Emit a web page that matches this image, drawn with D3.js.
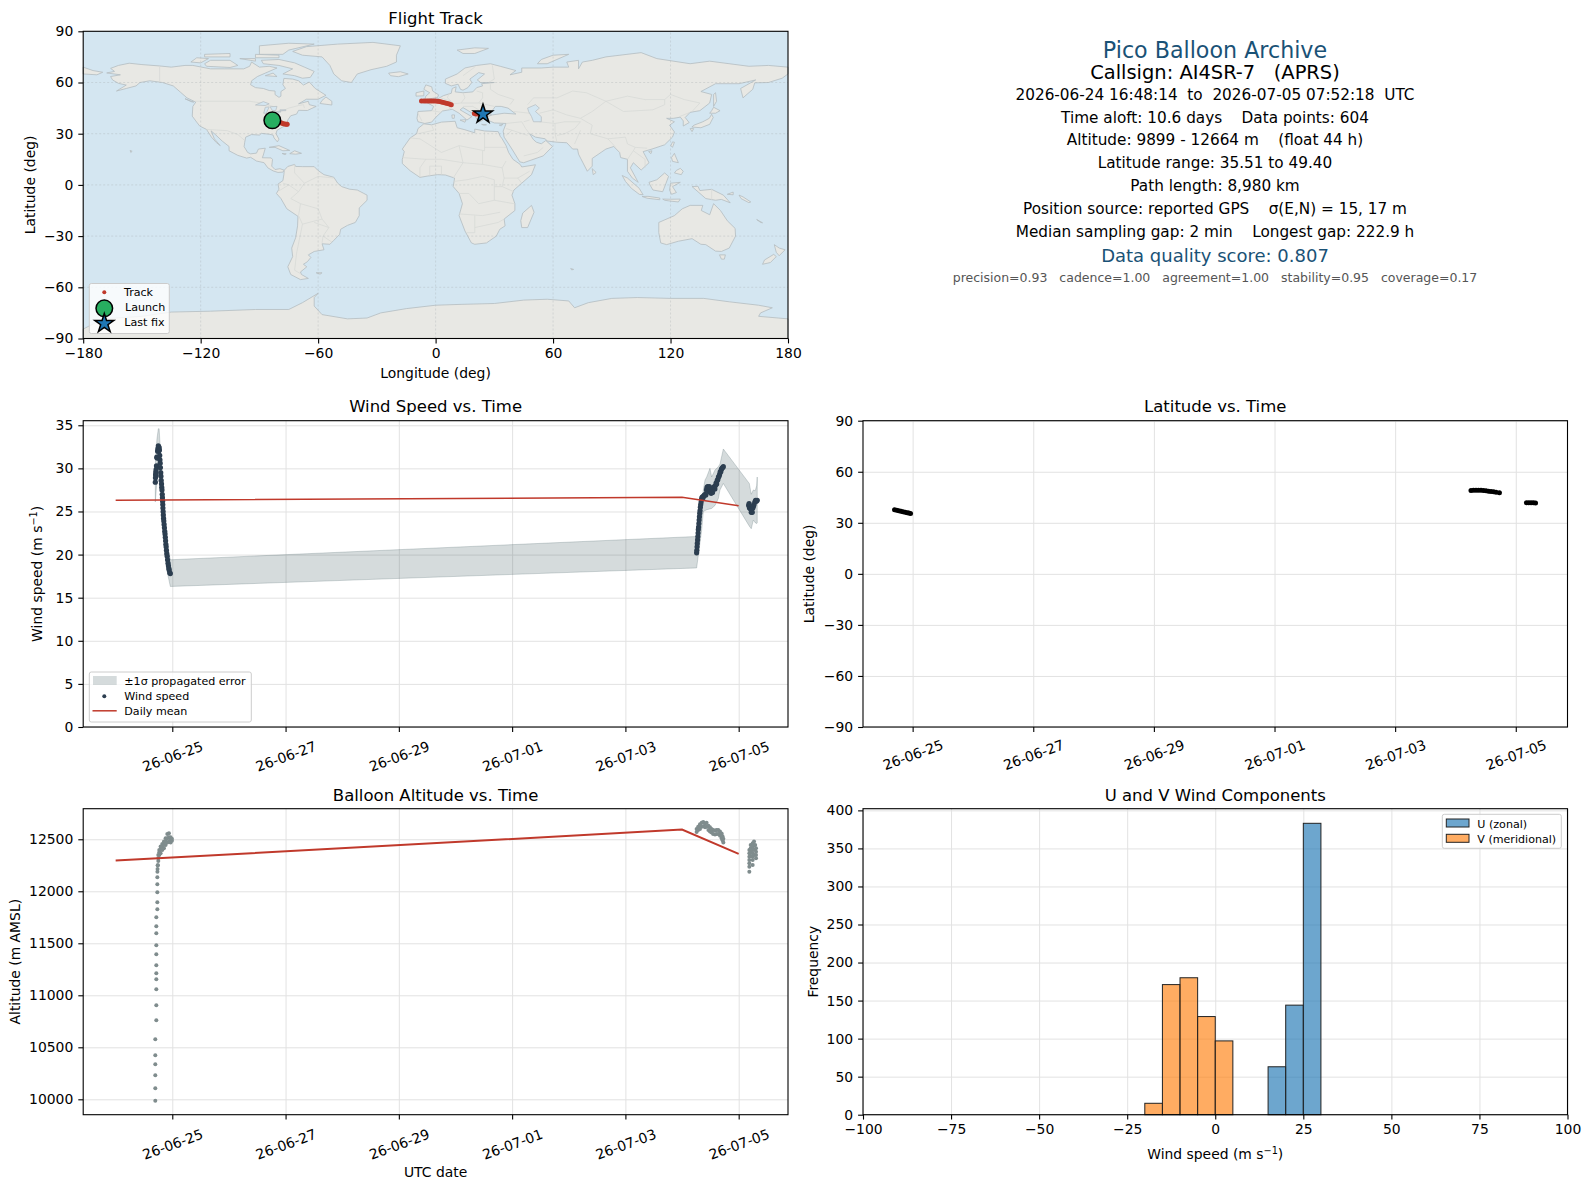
<!DOCTYPE html>
<html>

<head>
    <script type="text/javascript" src="https://d3js.org/d3.v7.min.js"></script>
    <style>
        body { margin: 0; background: white; }
        text { font-family: "DejaVu Sans", sans-serif; fill: black; white-space: pre; }
    </style>
</head>

<body>
    <script>

        // map outlines, lon/lat
        var landShapes = [
            // north america
            [[-168,65.6],[-164,66.5],[-166,68.3],[-162,70],[-156.5,71.3],[-150,70.5],[-141,69.7],[-135,69],[-128,70],[-124,70],[-115,68],[-108,68],[-98,68],[-95,69.5],[-94,72],[-90,69],[-85,69.5],[-81,68.5],[-87,65.5],[-91,63.5],[-94,61],[-94.5,58.7],[-92,57],[-88,56.5],[-85,55.3],[-82,55],[-82,52.9],[-80,51.3],[-79,52],[-79,54.7],[-76.7,56.5],[-78,58.7],[-77.5,62.4],[-73,62],[-70,61],[-67.5,58.5],[-64.5,60.3],[-61.5,56.5],[-56,52.5],[-60,50.2],[-66,50.2],[-70,47.5],[-65,49],[-64.5,47],[-61,46],[-65.5,43.6],[-70,43.7],[-71,41.5],[-74,40.5],[-75.5,38],[-76,35],[-78,34],[-81,32],[-81.5,30],[-80,26.8],[-80.8,25.2],[-82.5,27.5],[-83,29.2],[-85,29.7],[-89,30.2],[-90,29.2],[-94,29.5],[-97,28],[-97.5,25],[-97.8,22.4],[-96,19],[-94.5,18.2],[-91.5,18.6],[-90.5,21],[-87,21.5],[-88,17.5],[-88.5,15.9],[-84,15.8],[-83.3,14.9],[-83.7,11],[-82,9],[-79.5,9.5],[-77.3,8.6],[-78,7.5],[-80.5,7.3],[-83,8.2],[-85.7,10],[-87.6,13],[-91.5,14],[-94.5,16.2],[-96.5,15.7],[-101,17.3],[-105.5,20],[-105.5,22.5],[-109,25.7],[-112.5,29.5],[-114.7,31.7],[-113,27],[-110,23],[-112,24.8],[-114.5,28],[-117,32.5],[-120.5,34.5],[-122.5,37.5],[-124.3,40.3],[-124,46],[-122.5,48.5],[-127,51],[-130.5,54.5],[-134,58],[-139.5,60],[-146,61],[-151,60],[-153,58],[-158,56.5],[-163,55],[-158,58.5],[-162,59.5],[-165,61.5],[-166,63.5],[-161,64.5]],
            // south america
            [[-77.3,8.6],[-75.5,10.8],[-72,12],[-71.5,10.8],[-68,10.7],[-62,10.7],[-60,8.4],[-57,6],[-52,4.5],[-50,1],[-48,-1],[-44,-2.5],[-40,-3],[-37,-4.8],[-35,-6],[-35,-9],[-39,-13.5],[-39,-18],[-41,-22],[-45,-23.7],[-48.5,-26],[-49,-29],[-52,-32.5],[-54,-34.8],[-58,-34.5],[-57,-38],[-62,-39],[-65,-41],[-63.7,-42.5],[-65.5,-45],[-67.5,-46.5],[-65.8,-48],[-69,-51],[-68.5,-52.5],[-65,-54.8],[-69,-55.5],[-74,-52.5],[-75.5,-48],[-73,-42],[-73.5,-37],[-71.5,-31],[-70.5,-24],[-70.3,-18.4],[-76,-14],[-79,-8],[-81.3,-5],[-80,-2.5],[-80.5,0.5],[-78,2.5],[-77.5,6]],
            // africa
            [[-6,35.8],[-2,35.2],[3,36.8],[10,37.3],[11,33.5],[15,32.3],[20,30.5],[20,32.7],[25,31.6],[32,31.2],[33,28.5],[34,27],[36,23],[37.3,19],[39.5,15],[43.2,12],[44,10.5],[51,11.8],[49,6],[44,1],[40,-3],[39,-6],[40.5,-11],[40.5,-15],[35,-20],[35.5,-24],[32.8,-26],[31,-30],[26,-34],[20,-34.8],[18.3,-34],[15,-27],[12,-18],[13.7,-11],[12,-5],[9,-1],[9.7,4],[5,5.8],[1,6],[-4,5.2],[-8,4.4],[-13,8.3],[-17,12.5],[-17,15],[-16,19.5],[-17,21],[-13,27.5],[-9.7,30],[-9,33]],
            // eurasia
            [[-9,37],[-9.5,39],[-9,43],[-2,43.5],[-1,46],[-4.5,48.3],[-1.5,48.7],[2,51],[4,52.3],[8,53.7],[8.5,56.5],[10.5,57.5],[10,54.5],[14,54],[19,54.5],[21,57],[24,58],[23.5,59.3],[30,60],[23,60],[21.3,61.5],[25,65],[22,65.8],[17.5,62],[18.5,60],[16.5,57],[14,55.5],[12.7,56],[11.5,59],[8,58],[5,59.5],[5,62],[11,65],[15,68.5],[21,70],[28,71],[33,69.5],[41,67],[38,64.5],[44,66],[44,68.5],[54,68.5],[60,69],[68,69],[67,72],[73,73],[73,68],[75,72],[80,73],[87,75],[105,77.5],[113,74],[130,71],[140,72.5],[160,69.5],[170,70],[180,69],[180,65],[177,62.5],[170,60],[163,59.8],[162,56],[157,51],[155.8,56.5],[163.5,61.5],[155,59.3],[143,59.3],[135.5,54.7],[141,53],[140,48],[135,43.5],[130,42.5],[127.5,39.5],[129.5,36.5],[126.5,34.5],[126.5,37.5],[125,39.7],[121.5,39],[118,39],[122,37],[119.5,35],[122,31],[121,28],[117,23.5],[110.5,21],[106,19.5],[109,13],[105,8.7],[101,13],[99.5,10],[103.5,1.5],[100.5,4],[98,8],[98,15],[94.5,16],[94,19],[91,22.5],[87,21],[80,15.5],[80,11],[77.5,8],[73,18],[72.5,21],[70,21],[67,24.7],[62,25],[57,25.7],[56,27],[51,28],[48,30],[50,26.5],[51.5,25],[54,24.1],[56.3,26],[59.7,22.5],[55,17],[45,13],[43,13.5],[39,21],[35,28],[34.5,31.5],[36,36],[30,36.3],[26.5,38],[26.5,40],[29,41],[35,42],[41,41.5],[37,45],[33.5,46],[30.5,46],[28,42],[28.5,41.2],[26,40.7],[23,40.5],[24,37.8],[22,36.8],[19.5,41.5],[14,45.3],[12.5,44],[18.5,40],[16,38],[12,42],[8.5,44.3],[3.5,43.3],[0,39.5],[-2,36.8],[-5.5,36]],
            // antarctica, runs off the bottom of the map
            [[-180,-90],[-180,-84.5],[-170,-78.5],[-150,-77],[-135,-74.5],[-115,-74],[-92,-73],[-75,-73],[-68,-69],[-60,-63.5],[-62,-66],[-62,-71],[-58,-76],[-45,-78.5],[-35,-78],[-28,-75],[-15,-72.5],[0,-70.5],[13,-70],[30,-69.5],[45,-67.5],[57,-67],[68,-68],[71,-72],[78,-69],[90,-66.5],[103,-66],[120,-66.5],[137,-66.5],[150,-68.5],[165,-70.5],[172,-72],[166,-75],[165,-77],[175,-78],[180,-78.5],[180,-90]],
            // greenland and arctic islands
            [[-73,78.2],[-66,81],[-50,82.5],[-32,83.5],[-18,81.5],[-20,76],[-20,72],[-25,69.5],[-33,67.5],[-40,65],[-43,60],[-48,61],[-52,65],[-54,70],[-58,75],[-68,76]],
            [[-80,73.5],[-72,71.5],[-67,69],[-62,66.5],[-64,63],[-68,62.5],[-72,64],[-78,65],[-73,68],[-80,70],[-88,71],[-89,73]],
            [[-117,69.5],[-105,68.8],[-101,70],[-105,73],[-115,73],[-118,71]],
            [[-125,72],[-120,71.5],[-116,74],[-122,74.5]],
            [[-90,76.5],[-78,76.5],[-75,79],[-62,82.5],[-75,83],[-90,81.5]],
            [[-92,74.5],[-80,74.5],[-80,76],[-92,76.5]],
            [[-118,75],[-105,75],[-105,77],[-118,76.5]],
            [[-100,74],[-92,72.5],[-92,74]],
            [[-87,64],[-81,63.5],[-83,65.5]],
            [[-59,47.7],[-53,46.8],[-53,49],[-56,51.5],[-58,49.5]],
            [[-128,50.5],[-123.5,48.5],[-125,48.8]],
            [[-180,69],[-175,67],[-170,66],[-173,64.5],[-180,65]],
            [[11,79],[20,80.3],[27,80],[20,77],[14,77]],
            [[52,71],[57,71],[68,76.5],[60,76],[54,73.5]],
            // europe islands
            [[-5.5,50],[1,51.2],[1.5,52.8],[-1.5,55],[-2,57.5],[-5,58.6],[-6,56],[-3,54],[-5,52]],
            [[-10,52],[-6,52.2],[-6,55],[-10,54]],
            [[-24,65.5],[-18,66.3],[-14,65],[-19,63.4],[-23,64]],
            [[12.5,38],[15.5,38.2],[15,36.7]],
            [[8.3,41],[9.7,41],[9.5,39],[8.5,39]],
            [[23.5,35.5],[26,35.2],[24.5,35]],
            [[32.5,35],[34.5,35.6],[33.5,34.6]],
            // asia islands
            [[130.9,33.9],[135.5,33.5],[140,35.5],[141.8,39.5],[141,41.4],[139.8,39],[136.5,37],[132,35]],
            [[130,33],[131.8,33],[131,31.2]],
            [[140,42],[143,42],[145.3,43.5],[142,45.5],[141,43.5]],
            [[142,46],[143.5,49],[143,54],[142,53]],
            [[120.2,23],[121,22],[122,25],[121,25.2]],
            [[108.8,19.5],[110.5,20],[110,18.3]],
            [[120.5,16],[122,18.5],[122.5,17],[124,13],[121,13.8]],
            [[122,7],[125.5,6],[126.5,8],[125,9.7],[123,8.5]],
            [[109,1.5],[113,3],[117,7],[119,5],[117.7,1],[116,-4],[111,-3],[109.5,0]],
            [[95.3,5.5],[98,4],[104,-2],[106,-5.8],[104,-5.5],[100,-2],[97,2]],
            [[105.5,-6.8],[108.5,-6.7],[114.5,-7.7],[114.5,-8.7],[108,-7.8]],
            [[120,1],[125,1.5],[121,-1],[123,-4.5],[120.5,-5.5],[119.5,-3]],
            [[131,-1],[134,-0.8],[135,-3.3],[141,-2.6],[147,-6],[150.5,-10.5],[146,-8.5],[143,-9],[138,-8],[134,-4]],
            [[116,-8.3],[120,-8.4],[125,-8.3],[124,-10],[120,-9.5],[117,-9]],
            [[149,-5.5],[152,-4.2],[152,-5.8]],
            [[155,-6],[157,-7],[161,-10],[160,-10.4],[156,-8]],
            [[80,9.5],[82,7.3],[80.5,6]],
            // oceania, atlantic
            [[114,-22],[122,-18],[126,-14],[130,-12],[136.5,-12],[135.7,-15],[140,-17.5],[142,-11],[145.5,-15],[149,-21],[153,-25.5],[153.2,-30],[150,-37],[146,-39],[143,-38.8],[138,-35],[135.5,-34.8],[131,-31.5],[124,-33],[118,-35],[115,-34],[114,-28]],
            [[145,-41],[148,-41],[147.5,-43.5],[146,-43.5]],
            [[173,-35],[175.5,-37],[178.5,-38],[175.5,-41.5],[174,-39.5]],
            [[172.7,-40.7],[174,-42],[171,-45.5],[167,-46.5],[168,-44]],
            [[164,-20.3],[167,-22.2],[166,-22]],
            [[49,-12],[50.3,-16],[47,-25],[44,-25],[43.5,-21],[44.5,-16.5]],
            [[-85,22],[-80,23],[-74.5,20.2],[-78,20],[-82,22]],
            [[-74.5,18.3],[-72,20],[-68.5,18.5],[-71.5,18]],
            [[-78.4,18.4],[-76.3,18.2],[-77,17.8]],
            [[-156,20.2],[-155,19.7],[-155.7,19]],
            [[-61,-51.5],[-58,-51.5],[-59,-52.3]],
            [[69,-49],[70.5,-49.5],[69.5,-49.8]]
        ]

        var lakeShapes = [
            [[47,45],[51,47],[53,45],[51,43],[54,40],[54,37],[50,37],[49,40],[47.5,43]],
            [[-92,46.8],[-88,48.8],[-85,47.5],[-87,46.5]],
            [[-87.8,42],[-86.5,42],[-85,45.7],[-87,45.5]],
            [[-84.5,45.8],[-81,46],[-81.7,43.5],[-83.5,43.7]],
            [[-83,41.7],[-79,42.8],[-80,43.2],[-83,42.4]],
            [[-79.5,43.5],[-76.5,43.5],[-76.5,44],[-79.5,44]]
        ]

        var borderLines = [
            [[-123,49],[-95,49],[-89,48],[-83,46],[-82.5,43],[-79,43],[-75,45],[-70,46.5],[-67.5,47],[-67,45]],
            [[-141,69.7],[-141,60]],
            [[-117,32.5],[-106.5,31.8],[-101,29.5],[-97.5,26]],
            [[-52,4],[-60,5],[-67,1],[-70,-4],[-74,-8],[-69,-11],[-60,-14],[-58,-20],[-54.5,-25],[-57.5,-30],[-53,-33.5]],
            [[-72,12],[-72,7],[-67,1]],[[-78,1],[-75,0],[-70,-4]],[[-80,-3.5],[-75,0]],
            [[-70,-18],[-69,-11]],[[-70,-18],[-68,-23],[-71,-40],[-72,-50],[-69,-52]],[[-68,-23],[-58,-20]],[[-62,-22],[-54.5,-25]],[[-58,-34],[-57.5,-30]],
            [[-9,30],[-1,32],[-2,35]],[[-13,27.5],[-8,27],[3,19],[12,23],[25,20],[25,31.6]],[[25,22],[36,22]],
            [[12,23],[14,13],[24,12],[24,20]],[[-17,16],[-5,15],[3,15],[14,13]],[[-5,15],[-8,10],[-8,4.5]],
            [[-3,5],[-3,11],[3,11],[3,6]],[[14,13],[9,4]],[[24,12],[34,10],[36,14]],[[34,10],[35,4],[42,4],[44,1]],
            [[42,4],[48,8]],[[35,4],[34,-1],[40,-4]],[[34,-1],[30,-1],[30,-9],[40,-11]],[[12,-5],[17,-5],[22,-11],[30,-9]],
            [[12,-17],[24,-18],[33,-16]],[[20,-18],[20,-28],[16,-28]],[[20,-25],[32,-22],[35,-20]],[[16,3],[9,2]],[[16,3],[24,5],[30,3],[30,-1]],
            [[-2,43.5],[3,42.5]],[[-9,42],[-7,37.5]],[[2.5,51],[8,49],[7,44]],[[7,54],[6,51],[8,49]],
            [[14,54],[15,51],[13,48],[9,47.5],[7,44]],[[13,48],[17,48],[22,48],[30,46]],[[22,48],[24,51],[24,54],[21,55]],
            [[28,56],[32,53],[40,50],[38,47]],[[14,46],[19,46],[22,44],[23,41]],[[14,64],[20,69]],[[29,70],[30,62],[27,60]],
            [[28,59],[28,56]],[[40,43],[48,42]],
            [[47,47],[50,51],[62,51],[70,55],[77,54],[87,49]],[[87,49],[98,52],[107,50],[117,50],[120,53],[127,50],[135,48],[131,43]],
            [[87,49],[80,43],[74,39],[80,35],[79,30],[88,27],[97,28],[98,24],[102,22],[108,21.5]],[[87,49],[96,43],[111,44],[117,47],[117,50]],
            [[53,42],[60,44],[67,41],[74,39]],[[53,37],[61,36],[66,37],[74,37]],[[61,36],[61,30],[62,25]],[[74,37],[71,33],[66,30],[62,29]],
            [[71,24],[74,32]],[[45,37],[48,38]],[[44,37],[36,36]],[[44,37],[46,33],[48,30]],[[36,33],[39,32],[47,29]],[[39,32],[36,29]],
            [[45,17],[52,19],[55,22]],[[88,27],[92,22]],[[98,15],[101,20],[102,22]],[[101,20],[107,15],[107,10]],[[124.5,40],[130,42.5]],
            [[141,-2.6],[141,-9]]
        ]

        // flight track on the map
        var trackLon = [-83.4,-82.6,-81.8,-81,-80.2,-79.4,-78.6,-77.8,-77,-76.3,-75.8, -7.2,-6,-5,-4,-3,-2,-1,0,1,2,3,4,5,6,7,8, 19.8,20.6,21.6,22.8,24.2]
        var trackLat = [37.8,37.5,37.2,36.9,36.6,36.4,36.2,35.9,35.7,35.6,35.5, 49.1,49.2,49.2,49.2,49.2,49.2,49.1,49.1,49,48.8,48.6,48.3,48,47.7,47.4,47, 41.8,41.5,41.6,41.6,41.5]
        var launchPos = [-83.4, 37.85]
        var lastFix = [24.2, 41.5]

        // wind speed scatter (UTC time, m/s)
        var windTimes = ["06-24 16:48","06-24 16:52","06-24 16:56","06-24 17:00","06-24 17:05","06-24 17:10","06-24 17:18","06-24 17:25","06-24 17:35","06-24 17:48","06-24 17:55","06-24 18:00","06-24 18:05","06-24 18:10","06-24 18:14","06-24 18:20","06-24 18:26","06-24 18:32","06-24 18:40","06-24 18:46","06-24 18:52","06-24 18:58","06-24 19:06","06-24 19:12","06-24 19:18","06-24 19:26","06-24 19:32","06-24 19:38","06-24 19:45","06-24 19:50","06-24 19:54","06-24 19:58","06-24 20:02","06-24 20:07","06-24 20:12","06-24 20:18","06-24 20:24","06-24 20:32","06-24 20:40","06-24 20:48","06-24 20:55","06-24 21:03","06-24 21:10","06-24 21:17","06-24 21:24","06-24 21:32","06-24 21:40","06-24 21:50","06-24 22:00","06-24 22:12","06-24 22:22","06-24 22:32","06-24 22:42","06-24 22:55","06-24 23:10",
            "07-04 06:11","07-04 06:16","07-04 06:22","07-04 06:28","07-04 06:35","07-04 06:42","07-04 06:48","07-04 06:54","07-04 07:00","07-04 07:08","07-04 07:15","07-04 07:22","07-04 07:30","07-04 07:38","07-04 07:46","07-04 07:55","07-04 08:05","07-04 08:15","07-04 08:25","07-04 08:40","07-04 08:55","07-04 09:10","07-04 09:30","07-04 09:50","07-04 10:05","07-04 10:20","07-04 10:35","07-04 10:50","07-04 11:05","07-04 11:20","07-04 11:35","07-04 11:50","07-04 12:05","07-04 12:20","07-04 12:40","07-04 12:55","07-04 13:10","07-04 13:25","07-04 13:40","07-04 13:55","07-04 14:10","07-04 14:25","07-04 14:40","07-04 14:55","07-04 15:10","07-04 15:25","07-04 15:40","07-04 15:55","07-04 16:10","07-04 16:25","07-04 16:40","07-04 16:55","07-04 17:10","07-04 17:30",
            "07-05 04:14","07-05 04:25","07-05 04:35","07-05 04:50","07-05 05:05","07-05 05:20","07-05 05:30","07-05 05:45","07-05 06:00","07-05 06:15","07-05 06:30","07-05 06:50","07-05 07:10","07-05 07:30","07-05 07:52"]
        var windSpeed = [28.4,28.9,29.3,29.6,29.2,29.9,30.3,31.3,31.2,32,32.3,32.1,32.6,32,32.5,32.2,32.4,32.1,31.5,31,30.6,30.1,29.5,29.1,28.6,28.2,27.8,27.5,27,26.6,26.2,25.8,25.4,25,24.6,24.2,23.9,23.5,23.1,22.7,22.4,22,21.6,21.2,20.9,20.5,20.1,19.8,19.4,19,18.7,18.4,18.2,17.9,17.8,
            20.2,20.5,20.9,21.3,21.7,22.1,22.5,22.9,23.2,23.6,24,24.4,24.8,25.1,25.5,25.8,26.1,26.4,26.6,26.7,26.6,26.8,26.9,27,26.9,27.5,27.8,27.9,27.7,27.4,27.9,27.3,27.2,27.1,27.4,27.2,27.6,27.8,27.9,27.6,28,28.3,28.2,28.6,28.7,29,29.1,29.3,29.6,29.6,29.9,30,30.1,30.2,
            25.7,25.9,25.4,25.6,25.3,24.9,25.2,24.9,25.4,25.6,25.8,26.1,26.3,26.2,26.3]

        // +-1 sigma band
        var bandTimes = ["06-24 16:48","06-24 17:10","06-24 17:30","06-24 18:05","06-24 18:26","06-24 18:46","06-24 19:26","06-24 20:12","06-24 21:03","06-24 22:00","06-24 23:10",
            "07-04 06:11","07-04 08:18","07-04 09:01","07-04 09:44","07-04 10:26","07-04 11:50","07-04 12:32","07-04 13:58","07-04 15:22","07-04 16:05","07-04 17:30",
            "07-05 04:30","07-05 05:20","07-05 06:13","07-05 07:00","07-05 07:38","07-05 07:52"]
        var bandLow = [26.1,27.4,28.5,30.3,30.2,29,26.3,22.8,20.3,17.8,16.3, 18.45,22.8,25,25.1,25.2,25.3,25.35,25.7,26.5,27.5,28.25, 23.3,23,24,23.7,23.6,23.7]
        var bandHigh = [30.4,32.2,33.4,34.6,34.6,33,30.1,26.4,23.7,21,19.4, 22.1,26.3,27.5,28.65,29,30,29,29.8,30.2,30.5,32.25, 28.25,27,27.5,27.4,28,29]

        // daily means, shared dates
        var meanDates = ["06-24 00:00","07-04 00:00","07-05 00:00"]
        var meanWind = [26.3,26.65,25.66]
        var meanAlt = [12295,12593,12359]

        // latitude vs time
        var latTimes = ["06-24 16:48","06-24 17:40","06-24 18:30","06-24 19:20","06-24 20:10","06-24 21:00","06-24 21:50","06-24 22:30","06-24 23:10",
            "07-04 06:11","07-04 07:10","07-04 08:10","07-04 09:10","07-04 10:10","07-04 11:10","07-04 12:10","07-04 13:10","07-04 14:10","07-04 15:10","07-04 16:10","07-04 17:30",
            "07-05 04:14","07-05 05:10","07-05 06:05","07-05 07:00","07-05 07:52"]
        var latValues = [37.7,37.4,37.1,36.8,36.5,36.2,35.9,35.7,35.5, 49,49.1,49.2,49.2,49.1,49,48.9,48.6,48.4,48.2,48,47.6, 41.8,41.8,41.8,41.8,41.7]

        // balloon altitude scatter
        var altTimes = ["06-24 16:48","06-24 16:48","06-24 16:48","06-24 16:48","06-24 16:48","06-24 16:48","06-24 17:14","06-24 17:14","06-24 17:14","06-24 17:14","06-24 17:14","06-24 17:14","06-24 17:14","06-24 17:14","06-24 17:14","06-24 17:14","06-24 17:14","06-24 17:40","06-24 17:40","06-24 17:40","06-24 17:40","06-24 17:40","06-24 17:42","06-24 17:45","06-24 17:48",
            "06-24 17:55","06-24 18:04","06-24 18:04","06-24 18:04","06-24 18:29","06-24 18:29","06-24 18:29","06-24 19:03","06-24 19:03","06-24 19:03","06-24 19:45","06-24 19:45","06-24 19:45","06-24 20:28","06-24 20:28","06-24 20:28","06-24 21:10","06-24 21:10","06-24 21:10","06-24 21:53","06-24 21:53","06-24 21:53","06-24 22:35","06-24 22:35","06-24 22:35","06-24 23:17","06-24 23:17","06-24 23:17","06-24 23:50","06-24 23:50",
            "07-04 06:11","07-04 06:11","07-04 06:50","07-04 06:50","07-04 07:36","07-04 07:36","07-04 08:20","07-04 08:20","07-04 09:00","07-04 09:00","07-04 09:45","07-04 09:45","07-04 10:24","07-04 10:24","07-04 11:10","07-04 11:10","07-04 11:50","07-04 11:50","07-04 12:30","07-04 12:30","07-04 13:10","07-04 13:10","07-04 13:58","07-04 13:58","07-04 14:40","07-04 14:40","07-04 15:22","07-04 15:22","07-04 16:05","07-04 16:05","07-04 16:47","07-04 16:47","07-04 17:10","07-04 17:10","07-04 17:30","07-04 17:30",
            "07-05 04:31","07-05 04:31","07-05 04:31","07-05 04:31","07-05 04:31","07-05 04:31","07-05 04:31","07-05 05:05","07-05 05:05","07-05 05:05","07-05 05:05","07-05 05:56","07-05 05:56","07-05 05:56","07-05 05:56","07-05 05:56","07-05 05:56","07-05 05:56","07-05 06:30","07-05 06:30","07-05 06:30","07-05 06:30","07-05 07:00","07-05 07:21","07-05 07:21","07-05 07:21","07-05 07:21"]
        var altValues = [9985,10106,10231,10337,10423,10577,10760,10904,11058,11154,11212,11288,11394,11481,11596,11663,11750,11827,11894,11990,12067,12135,12189,12215,12250,
            12250,12290,12317,12349,12349,12375,12397,12365,12400,12430,12397,12428,12455,12413,12447,12478,12445,12480,12510,12468,12510,12551,12478,12520,12558,12468,12495,12519,12487,12505,
            12570,12600,12590,12620,12600,12645,12620,12660,12625,12665,12615,12650,12620,12660,12590,12630,12575,12615,12565,12600,12550,12590,12545,12585,12550,12590,12550,12590,12535,12575,12510,12555,12490,12530,12470,12505,
            12397,12365,12333,12301,12269,12237,12189,12446,12413,12375,12340,12462,12430,12397,12365,12333,12301,12253,12478,12440,12400,12350,12446,12413,12381,12349,12317]

        // histogram counts, bins of 5 m/s
        var histEdges = [-20,-15,-10,-5,0,5,10,15,20,25,30]
        var uCounts = [0,0,0,0,0,0,0,63,144,383]
        var vCounts = [15,171,180,129,97,0,0,0,0,0]

        // info panel
        var infoLines = [
            { text: "Pico Balloon Archive", y: 51, size: 22.2, fill: "#1a5276" },
            { text: "Callsign: AI4SR-7   (APRS)", y: 73.5, size: 19.44, fill: "#000" },
            { text: "2026-06-24 16:48:14  to  2026-07-05 07:52:18  UTC", y: 95, size: 15.28, fill: "#000" },
            { text: "Time aloft: 10.6 days    Data points: 604", y: 118, size: 15.28, fill: "#000" },
            { text: "Altitude: 9899 - 12664 m    (float 44 h)", y: 140.5, size: 15.28, fill: "#000" },
            { text: "Latitude range: 35.51 to 49.40", y: 163.5, size: 15.28, fill: "#000" },
            { text: "Path length: 8,980 km", y: 186.5, size: 15.28, fill: "#000" },
            { text: "Position source: reported GPS    σ(E,N) = 15, 17 m", y: 209.5, size: 15.28, fill: "#000" },
            { text: "Median sampling gap: 2 min    Longest gap: 222.9 h", y: 232.5, size: 15.28, fill: "#000" },
            { text: "Data quality score: 0.807", y: 257, size: 18, fill: "#1a5276" },
            { text: "precision=0.93   cadence=1.00   agreement=1.00   stability=0.95   coverage=0.17", y: 278, size: 12.5, fill: "#555" }
        ]

        var latDegTicks = [-90, -60, -30, 0, 30, 60, 90]
        var lonDegTicks = [-180, -120, -60, 0, 60, 120, 180]
        var dateTicks = ["06-25 00:00", "06-27 00:00", "06-29 00:00", "07-01 00:00", "07-03 00:00", "07-05 00:00"]

        var red = "#c0392b", navy = "#2c3e50", slate = "#7f8c8d"
        var leftX = [83.2, 788], rightX = [863, 1567.5]
        var row1 = [338.5, 31.3], row2 = [727, 420.7], row3 = [1114.7, 808.7]

        var w = 1590, h = 1189
        var svg = d3.select('body').append('svg')
        svg.attr('width', w).attr('height', h)

        var parseT = s => d3.utcParse("%Y-%m-%d %H:%M")("2026-" + s)
        var dateFmt = d3.utcFormat("%y-%m-%d")

        function gridX(x, yr) {
            svg.append("g")
                .attr("transform", "translate(0," + yr[0] + ")")
                .call(d3.axisBottom(x).tickValues(x.gridValues).tickSize(yr[1] - yr[0]).tickFormat(""))
                .call(g => g.select(".domain").remove())
                .selectAll("line").attr("stroke", "#e2e2e2").attr("stroke-width", 1)
        }

        function gridY(y, xr) {
            svg.append("g")
                .attr("transform", "translate(" + xr[0] + ",0)")
                .call(d3.axisLeft(y).tickValues(y.gridValues).tickSize(xr[0] - xr[1]).tickFormat(""))
                .call(g => g.select(".domain").remove())
                .selectAll("line").attr("stroke", "#e2e2e2").attr("stroke-width", 1)
        }

        // frame, ticks, labels; called after the marks so the frame is on top
        function frame(x, y, xr, yr, opts) {
            var bottom = d3.axisBottom(x).tickValues(x.gridValues).tickSize(4.9).tickPadding(5)
            bottom.tickFormat(opts.xFormat || d3.format("d"))
            var gx = svg.append("g").attr("transform", "translate(0," + yr[0] + ")").call(bottom)
            gx.select(".domain").remove()
            gx.selectAll("text").attr("font-size", 13.9)
            if (opts.rotate) {
                gx.selectAll("text")
                    .attr("text-anchor", "middle")
                    .attr("dy", "0.35em")
                    .attr("y", 0)
                    .attr("transform", "translate(0," + opts.rotate + ") rotate(-20)")
            }
            var gy = svg.append("g").attr("transform", "translate(" + xr[0] + ",0)")
                .call(d3.axisLeft(y).tickValues(y.gridValues).tickSize(4.9).tickPadding(5).tickFormat(d3.format("d")))
            gy.select(".domain").remove()
            gy.selectAll("text").attr("font-size", 13.9)
            gx.selectAll("line").attr("stroke", "black").attr("stroke-width", 1.1)
            gy.selectAll("line").attr("stroke", "black").attr("stroke-width", 1.1)
            svg.append("rect")
                .attr("x", xr[0]).attr("y", yr[1])
                .attr("width", xr[1] - xr[0]).attr("height", yr[0] - yr[1])
                .attr("fill", "none").attr("stroke", "black").attr("stroke-width", 1.1)

            svg.append("text")
                .attr("x", (xr[0] + xr[1]) / 2).attr("y", yr[1] - (opts.titleGap || 7.5))
                .attr("text-anchor", "middle").attr("font-size", 16.5)
                .text(opts.title)
            if (opts.xLabel) {
                svg.append("text")
                    .attr("x", (xr[0] + xr[1]) / 2).attr("y", opts.xLabelY)
                    .attr("text-anchor", "middle").attr("font-size", 13.9)
                    .text(opts.xLabel)
            }
            if (opts.yLabel) {
                svg.append("text")
                    .attr("transform", "translate(" + opts.yLabelX + "," + (yr[0] + yr[1]) / 2 + ") rotate(-90)")
                    .attr("text-anchor", "middle").attr("font-size", 13.9)
                    .text(opts.yLabel)
            }
        }

        function legendBox(x, y, width, height) {
            svg.append("rect")
                .attr("x", x).attr("y", y).attr("width", width).attr("height", height).attr("rx", 2)
                .attr("fill", "white").attr("fill-opacity", 0.8)
                .attr("stroke", "#ccc").attr("stroke-width", 1)
        }

        function legendText(x, y, s) {
            svg.append("text").attr("x", x).attr("y", y)
                .attr("dominant-baseline", "middle").attr("font-size", 11.1).text(s)
        }

        function superLabel(sel, before) {
            sel.text(before)
            sel.append("tspan").attr("dy", -5).attr("font-size", "70%").text("−1")
            sel.append("tspan").attr("dy", 5).text(")")
        }

        // ---------- Flight track ----------
        var xMap = d3.scaleLinear().domain([-180, 180]).range(leftX)
        var yMap = d3.scaleLinear().domain([-90, 90]).range(row1)
        xMap.gridValues = lonDegTicks
        yMap.gridValues = latDegTicks
        var geoLine = d3.line().x(d => xMap(d[0])).y(d => yMap(d[1]))

        svg.append("rect")
            .attr("x", leftX[0]).attr("y", row1[1])
            .attr("width", leftX[1] - leftX[0]).attr("height", row1[0] - row1[1])
            .attr("fill", "#d4e6f1")

        svg.append("g").selectAll("path").data(landShapes).join("path")
            .attr("d", d => geoLine(d) + "Z")
            .attr("fill", "#e8e8e4").attr("stroke", "#b4bcc0").attr("stroke-width", 0.8)
            .attr("stroke-linejoin", "round")

        svg.append("g").selectAll("path").data(borderLines).join("path")
            .attr("d", geoLine)
            .attr("fill", "none").attr("stroke", "#d6d8d6").attr("stroke-width", 0.7)

        svg.append("g").selectAll("path").data(lakeShapes).join("path")
            .attr("d", d => geoLine(d) + "Z")
            .attr("fill", "#d4e6f1").attr("stroke", "#b4bcc0").attr("stroke-width", 0.7)

        var mapGrid = svg.append("g").attr("class", "mapgrid")
        mapGrid.selectAll(".v").data(lonDegTicks.slice(1, -1)).join("line").attr("class", "v")
            .attr("x1", d => xMap(d)).attr("x2", d => xMap(d)).attr("y1", row1[0]).attr("y2", row1[1])
        mapGrid.selectAll(".h").data(latDegTicks.slice(1, -1)).join("line").attr("class", "h")
            .attr("y1", d => yMap(d)).attr("y2", d => yMap(d)).attr("x1", leftX[0]).attr("x2", leftX[1])
        mapGrid.selectAll("line").attr("stroke", "#a9b0b3").attr("stroke-opacity", 0.5)
            .attr("stroke-width", 0.7).attr("stroke-dasharray", "2,2")

        svg.append("g").selectAll("circle").data(trackLon).join("circle")
            .attr("cx", d => xMap(d)).attr("cy", (d, i) => yMap(trackLat[i]))
            .attr("r", 2.5).attr("fill", red)

        svg.append("circle")
            .attr("cx", xMap(launchPos[0])).attr("cy", yMap(launchPos[1])).attr("r", 8.3)
            .attr("fill", "#27ae60").attr("stroke", "black").attr("stroke-width", 1.5)

        var star = d3.symbol(d3.symbolStar, 112)
        svg.append("path")
            .attr("transform", "translate(" + xMap(lastFix[0]) + "," + yMap(lastFix[1]) + ")")
            .attr("d", star).attr("fill", "#1f77b4").attr("stroke", "black").attr("stroke-width", 1.5)

        frame(xMap, yMap, leftX, row1, { title: "Flight Track", xLabel: "Longitude (deg)", xLabelY: 378, yLabel: "Latitude (deg)", yLabelX: 35 })

        legendBox(89.3, 283.5, 80, 50)
        svg.append("circle").attr("cx", 104.3).attr("cy", 292.3).attr("r", 2).attr("fill", red)
        svg.append("circle").attr("cx", 104.3).attr("cy", 308.3).attr("r", 8.3)
            .attr("fill", "#27ae60").attr("stroke", "black").attr("stroke-width", 1.5)
        svg.append("path").attr("transform", "translate(104.3,323.5)").attr("d", star)
            .attr("fill", "#1f77b4").attr("stroke", "black").attr("stroke-width", 1.5)
        legendText(124, 292.5, "Track")
        legendText(125, 308, "Launch")
        legendText(124.3, 323, "Last fix")

        // ---------- Info panel ----------
        svg.append("g").selectAll("text").data(infoLines).join("text")
            .attr("x", 1215).attr("y", d => d.y)
            .attr("text-anchor", "middle").attr("dominant-baseline", "middle")
            .attr("font-size", d => d.size).style("fill", d => d.fill)
            .text(d => d.text)

        // ---------- Wind speed ----------
        var xWind = d3.scaleUtc().domain([parseT("06-23 10:15"), parseT("07-05 20:54")]).range(leftX)
        var yWind = d3.scaleLinear().domain([0, 35.53]).range(row2)
        xWind.gridValues = dateTicks.map(parseT)
        yWind.gridValues = [0, 5, 10, 15, 20, 25, 30, 35]
        gridX(xWind, row2)
        gridY(yWind, leftX)

        var bandRows = bandTimes.map((t, i) => ({ t: parseT(t), lo: bandLow[i], hi: bandHigh[i] }))
        svg.append("path")
            .attr("d", d3.area().x(d => xWind(d.t)).y0(d => yWind(d.lo)).y1(d => yWind(d.hi))(bandRows))
            .attr("fill", "#2c4a50").attr("fill-opacity", 0.2)
            .attr("stroke", "#2c4a50").attr("stroke-opacity", 0.2).attr("stroke-width", 1)

        svg.append("g").selectAll("circle").data(windSpeed).join("circle")
            .attr("cx", (d, i) => xWind(parseT(windTimes[i]))).attr("cy", d => yWind(d))
            .attr("r", 2.6).attr("fill", navy)

        svg.append("path")
            .attr("d", d3.line().x(d => xWind(parseT(d))).y((d, i) => yWind(meanWind[i]))(meanDates))
            .attr("fill", "none").attr("stroke", red).attr("stroke-width", 1.5)

        frame(xWind, yWind, leftX, row2, { title: "Wind Speed vs. Time", titleGap: 8.5, xFormat: dateFmt, rotate: 29.5 })
        superLabel(svg.append("text")
            .attr("transform", "translate(42," + (row2[0] + row2[1]) / 2 + ") rotate(-90)")
            .attr("text-anchor", "middle").attr("font-size", 13.9), "Wind speed (m s")

        legendBox(89.3, 672, 162, 50)
        svg.append("rect").attr("x", 93).attr("y", 676).attr("width", 23.7).attr("height", 9)
            .attr("fill", "#2c4a50").attr("fill-opacity", 0.2)
        svg.append("circle").attr("cx", 104.3).attr("cy", 696.3).attr("r", 2).attr("fill", navy)
        svg.append("line").attr("x1", 92.5).attr("x2", 116.7).attr("y1", 710.8).attr("y2", 710.8)
            .attr("stroke", red).attr("stroke-width", 1.5)
        legendText(124.3, 681.5, "±1σ propagated error")
        legendText(124.3, 696.5, "Wind speed")
        legendText(124.3, 712, "Daily mean")

        // ---------- Latitude ----------
        var xLat = d3.scaleUtc().domain([parseT("06-24 04:15"), parseT("07-05 20:35")]).range(rightX)
        var yLat = d3.scaleLinear().domain([-90, 90]).range(row2)
        xLat.gridValues = dateTicks.map(parseT)
        yLat.gridValues = latDegTicks
        gridX(xLat, row2)
        gridY(yLat, rightX)

        svg.append("g").selectAll("circle").data(latValues).join("circle")
            .attr("cx", (d, i) => xLat(parseT(latTimes[i]))).attr("cy", d => yLat(d))
            .attr("r", 2.5).attr("fill", "black")

        frame(xLat, yLat, rightX, row2, { title: "Latitude vs. Time", titleGap: 8.5, xFormat: dateFmt, rotate: 28, yLabel: "Latitude (deg)", yLabelX: 814 })

        // ---------- Altitude ----------
        var xAlt = d3.scaleUtc().domain([parseT("06-23 10:15"), parseT("07-05 20:54")]).range(leftX)
        var yAlt = d3.scaleLinear().domain([9852, 12794]).range(row3)
        xAlt.gridValues = dateTicks.map(parseT)
        yAlt.gridValues = [10000, 10500, 11000, 11500, 12000, 12500]
        gridX(xAlt, row3)
        gridY(yAlt, leftX)

        svg.append("g").selectAll("circle").data(altValues).join("circle")
            .attr("cx", (d, i) => xAlt(parseT(altTimes[i]))).attr("cy", d => yAlt(d))
            .attr("r", 2).attr("fill", slate)

        svg.append("path")
            .attr("d", d3.line().x(d => xAlt(parseT(d))).y((d, i) => yAlt(meanAlt[i]))(meanDates))
            .attr("fill", "none").attr("stroke", red).attr("stroke-width", 2)

        frame(xAlt, yAlt, leftX, row3, { title: "Balloon Altitude vs. Time", xFormat: dateFmt, rotate: 29.6, xLabel: "UTC date", xLabelY: 1177, yLabel: "Altitude (m AMSL)", yLabelX: 20 })

        // ---------- Histogram ----------
        var xHist = d3.scaleLinear().domain([-100, 100]).range(rightX)
        var yHist = d3.scaleLinear().domain([0, 402.2]).range(row3)
        xHist.gridValues = [-100, -75, -50, -25, 0, 25, 50, 75, 100]
        yHist.gridValues = [0, 50, 100, 150, 200, 250, 300, 350, 400]
        gridX(xHist, row3)
        gridY(yHist, rightX)

        function bars(counts, color) {
            svg.append("g").selectAll("rect").data(counts).join("rect")
                .attr("x", (d, i) => xHist(histEdges[i]))
                .attr("width", (d, i) => xHist(histEdges[i + 1]) - xHist(histEdges[i]))
                .attr("y", d => yHist(d))
                .attr("height", d => yHist(0) - yHist(d))
                .attr("fill", color).attr("fill-opacity", 0.65)
                .attr("stroke", "#222").attr("stroke-width", d => d > 0 ? 1 : 0)
        }
        bars(uCounts, "#1f77b4")
        bars(vCounts, "#ff7f0e")

        frame(xHist, yHist, rightX, row3, { title: "U and V Wind Components", yLabel: "Frequency", yLabelX: 818 })
        superLabel(svg.append("text")
            .attr("x", (rightX[0] + rightX[1]) / 2).attr("y", 1159)
            .attr("text-anchor", "middle").attr("font-size", 13.9), "Wind speed (m s")

        legendBox(1442.3, 814.3, 119, 34)
        svg.append("rect").attr("x", 1446.3).attr("y", 819).attr("width", 22.7).attr("height", 8)
            .attr("fill", "#1f77b4").attr("fill-opacity", 0.65).attr("stroke", "#222")
        svg.append("rect").attr("x", 1446.3).attr("y", 834.3).attr("width", 22.7).attr("height", 8)
            .attr("fill", "#ff7f0e").attr("fill-opacity", 0.65).attr("stroke", "#222")
        legendText(1477.3, 824.5, "U (zonal)")
        legendText(1477.3, 839.5, "V (meridional)")

    </script>
</body>

</html>
